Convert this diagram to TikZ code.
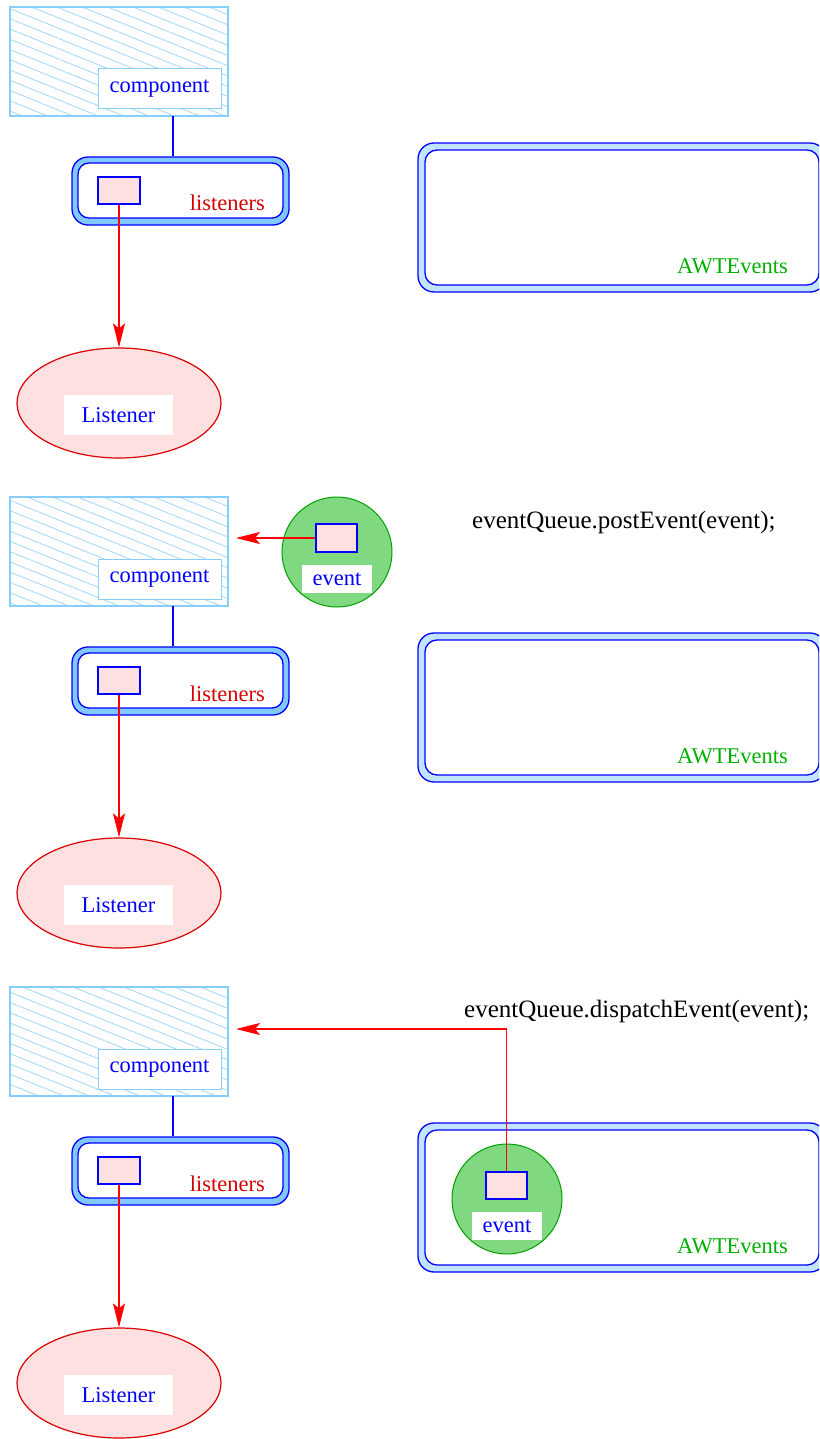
\documentclass[tikz,border=0pt]{standalone}
\usepackage{fontspec}
\setmainfont{Liberation Serif}
\usetikzlibrary{patterns.meta,arrows.meta,shapes.geometric}
\definecolor{skyb}{RGB}{135,206,250}
\definecolor{hatchc}{RGB}{160,215,250}
\definecolor{bandA}{RGB}{128,200,255}
\definecolor{bandB}{RGB}{195,228,255}
\definecolor{pinkf}{RGB}{255,224,224}
\definecolor{greenf}{RGB}{128,216,128}
\definecolor{greend}{RGB}{0,160,0}
\definecolor{greent}{RGB}{0,175,0}
\definecolor{redt}{RGB}{215,0,0}
\tikzset{
  lbl/.style={font=\fontsize{22.5}{26}\selectfont},
  code/.style={font=\fontsize{25}{30}\selectfont, text=black, inner sep=0pt},
  compbox/.style={draw=skyb, line width=2.4pt, inner sep=0pt, minimum width=218pt, minimum height=109pt,
     pattern={Lines[angle=-22, distance=9.5pt, line width=0.8pt]}, pattern color=hatchc},
  complbl/.style={lbl, draw=skyb, line width=1pt, fill=white, text=blue, inner sep=0pt, minimum width=123pt, minimum height=40pt},
  lstout/.style={draw=blue, line width=1.3pt, fill=bandA, rounded corners=16pt, inner sep=0pt, minimum width=217pt, minimum height=68pt},
  lstin/.style={draw=blue, line width=1.3pt, fill=white, rounded corners=11pt, inner sep=0pt, minimum width=205pt, minimum height=55pt},
  prect/.style={draw=blue, line width=1.2pt, fill=pinkf, inner sep=0pt, minimum width=42pt, minimum height=27pt},
  lsell/.style={ellipse, draw=red!85!black, line width=1.2pt, fill=pinkf, inner sep=0pt, minimum width=204pt, minimum height=110pt},
  whitelbl/.style={lbl, fill=white, text=blue, inner sep=0pt},
  awtout/.style={draw=blue, line width=1.3pt, fill=bandB, rounded corners=16pt, inner sep=0pt, minimum width=408pt, minimum height=149pt},
  awtin/.style={draw=blue, line width=1.3pt, fill=white, rounded corners=12pt, inner sep=0pt, minimum width=394pt, minimum height=135pt},
  evcirc/.style={circle, draw=greend, line width=1pt, fill=greenf, inner sep=0pt, minimum size=110pt},
  redarrow/.style={red, line width=1.1pt, -{Stealth[length=24pt, width=12pt, inset=5pt]}},
  blueline/.style={blue, line width=1.1pt}
}
\begin{document}
\begin{tikzpicture}[x=1pt, y=-1pt]
\clip (0,0) rectangle (819,1439);
\fill[white] (0,0) rectangle (819,1439);
\foreach \i/\dy in {1/0, 2/490, 3/980} {
  \begin{scope}[shift={(0,\dy)}]
    \node[compbox] (comp\i) at (119,61.5) {};
    \node[complbl] (complbl\i) at (159.5,89) {component};
    \node[lstout] (lstout\i) at (180.5,191) {};
    \node[lstin] (lstin\i) at (180.5,190.5) {};
    \node[prect] (prect\i) at (119,190.5) {};
    \node[lbl, text=redt, anchor=base east, inner sep=0pt] (lsttxt\i) at (265,211) {listeners};
    \coordinate (cj\i) at (173,116);
    \draw[blueline] (cj\i) -- (cj\i |- lstout\i.north);
    \node[lsell] (ell\i) at (119,403) {};
    \node[whitelbl, minimum width=109pt, minimum height=40pt] (lis\i) at (118.5,415) {Listener};
    \draw[redarrow] (prect\i.south) -- (ell\i.north);
    \node[awtout] (awtout\i) at (622,217.5) {};
    \node[awtin] (awtin\i) at (622,217.5) {};
    \node[lbl, text=greent, anchor=base east, inner sep=0pt] (awttxt\i) at (788,273) {AWTEvents};
  \end{scope}
}
% panel 2 event
\node[evcirc] (ev2) at (337,552) {};
\node[prect, minimum width=41pt, minimum height=28pt] (evr2) at (336.5,538) {};
\node[whitelbl, minimum width=70pt, minimum height=28pt] (evl2) at (337,579) {event};
\coordinate (tip2) at (236,538);
\draw[redarrow] (evr2.west) -- (tip2);
\node[code, anchor=base west] (post) at (472,528) {eventQueue.postEvent(event);};
% panel 3 event
\node[evcirc] (ev3) at (507,1199) {};
\node[prect, minimum width=41pt, minimum height=27pt] (evr3) at (506.5,1185.5) {};
\node[whitelbl, minimum width=70pt, minimum height=28pt] (evl3) at (507,1226) {event};
\coordinate (tip3) at (236,1029);
\draw[redarrow] (evr3.north) |- (tip3);
\node[code, anchor=base west] (disp) at (464,1017) {eventQueue.dispatchEvent(event);};
\end{tikzpicture}
\end{document}
